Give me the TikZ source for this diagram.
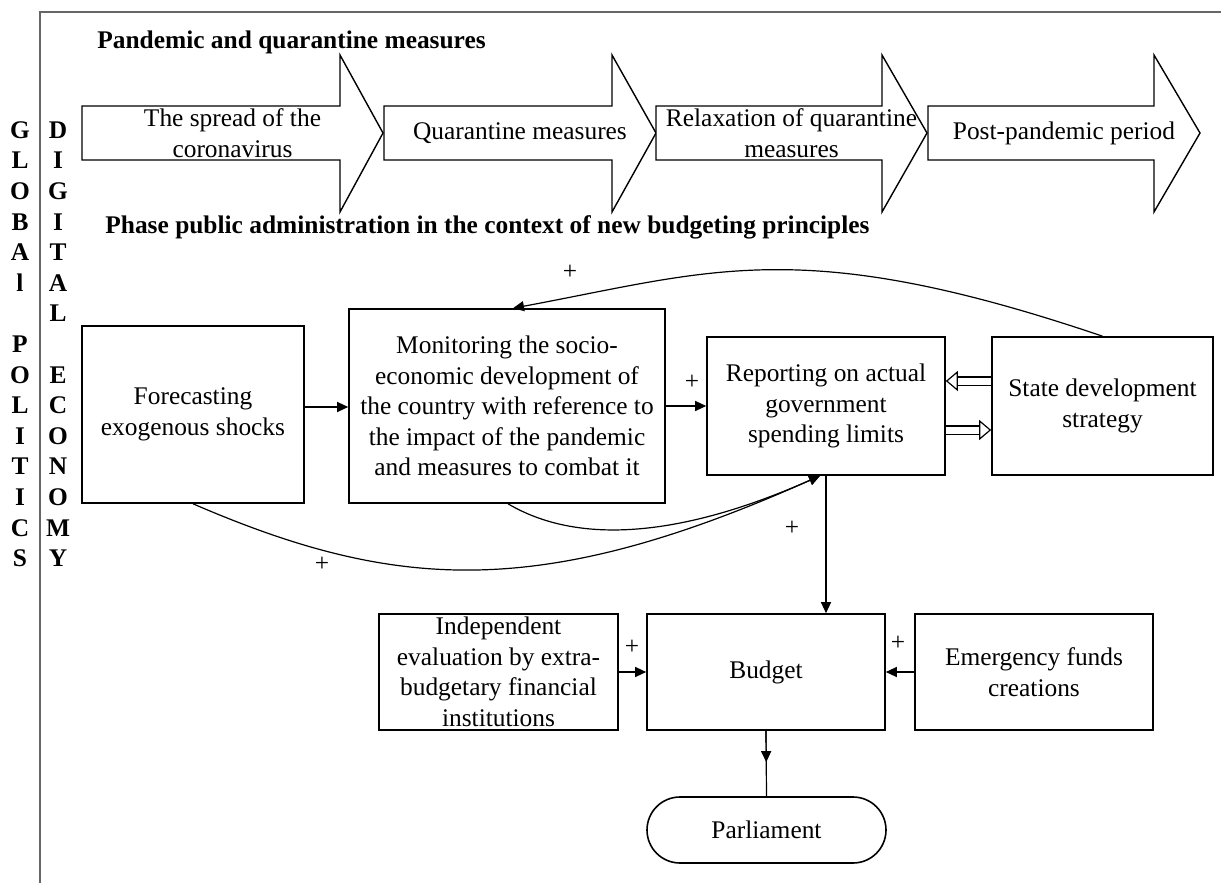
\documentclass[tikz,border=0pt]{standalone}
\usepackage{fontspec}
\setmainfont{Liberation Serif}
\usetikzlibrary{calc,arrows.meta,positioning}
\tikzset{%
    txt/.style={%
        font=\fontsize{12.7pt}{15.3pt}\selectfont, align=center, inner sep=0pt
    },
    heading/.style={%
        txt, font=\bfseries\fontsize{12.7pt}{15.3pt}\selectfont, anchor=west
    },
    letter/.style={%
        txt, font=\bfseries\fontsize{12.7pt}{15.3pt}\selectfont
    },
    phase/.style={%
        draw, fill=white, line width=0.7pt
    },
    box/.style={%
        rectangle, draw, fill=white, line width=0.8pt, txt
    },
    link/.style={%
        -{Triangle[length=5.5pt,width=5pt]}, line width=0.6pt
    },
    hollow/.style={%
        double, double distance=3.5pt, line width=0.6pt, -{Triangle[open,length=6pt,width=10pt]}
    },
    plus/.style={%
        txt
    },
    frame/.style={%
        draw=black!60, line width=1pt
    },
}

\begin{document}
\begin{tikzpicture}[x=0.5pt,y=-0.5pt]
    \useasboundingbox (0,0) rectangle (1221,883);
    \draw[frame] (40,883) -- (40,12) -- (1221,12);

    % side columns
    \foreach \ch [count=\i] in {G,L,O,B,A,l,{},P,O,L,I,T,I,C,S}
        \node[letter] (politics\i) at (20,{130+30.6*(\i-1)}) {\ch};
    \foreach \ch [count=\i] in {D,I,G,I,T,A,L,{},E,C,O,N,O,M,Y}
        \node[letter] (economy\i) at (58,{130+30.6*(\i-1)}) {\ch};

    \node[heading] (pandemic) at (97,42) {Pandemic and quarantine measures};
    \node[heading] (phasetitle) at (105,227) {Phase public administration in the context of new budgeting principles};

    % phases
    \foreach \xa/\xb/\xc/\name/\phasetext in {82/340/383/spread/{The spread of the\\coronavirus},
        384/612/656/quarantine/{Quarantine measures},
        656/882/927/relax/{Relaxation of quarantine\\measures},
        928/1154/1200/post/{Post-pandemic period}} {
        \draw[phase] (\xa,106) -- (\xb,106) -- (\xb,55) -- (\xc,133) -- (\xb,212) -- (\xb,160) -- (\xa,160) -- cycle;
        \node[txt] (\name) at ({(\xa+\xc)/2},133) {\phasetext};
    }

    % boxes
    \node[box, minimum width=111pt, minimum height=88.5pt] (forecast) at (193,414.5) {Forecasting\\exogenous shocks};
    \node[box, minimum width=158pt, minimum height=97pt] (monitor) at (507,406) {Monitoring the socio-\\economic development of\\the country with reference to\\the impact of the pandemic\\and measures to combat it};
    \node[box, minimum width=119pt, minimum height=69pt] (report) at (826,406) {Reporting on actual\\government\\spending limits};
    \node[box, minimum width=110.5pt, minimum height=69pt] (strategy) at (1102.5,406) {State development\\strategy};
    \node[box, minimum width=119.5pt, minimum height=58pt] (independent) at (498.5,672) {Independent\\evaluation by extra-\\budgetary financial\\institutions};
    \node[box, minimum width=119pt, minimum height=58pt] (budget) at (766,672) {Budget};
    \node[box, minimum width=119pt, minimum height=58pt] (emergency) at (1034,672) {Emergency funds\\creations};
    \node[box, rounded corners=16.5pt, minimum width=119.5pt, minimum height=33pt] (parliament) at (766.5,830) {Parliament};

    % signs
    \node[plus] (plus1) at (570,272) {+};
    \node[plus] (plus2) at (692,382) {+};
    \node[plus] (plus3) at (322,564) {+};
    \node[plus] (plus4) at (792,528) {+};
    \node[plus] (plus5) at (632,647) {+};
    \node[plus] (plus6) at (898,643) {+};

    % links
    \draw[link] ([yshift=3.75pt]forecast.east) -- ([yshift=3.75pt]forecast.east -| monitor.west);
    \draw[link] (monitor.east) -- (monitor.east -| report.west);
    \draw[hollow] ([yshift=12.5pt]strategy.west) -- ([yshift=12.5pt]strategy.west -| report.east);
    \draw[hollow] ([yshift=-12pt]report.east) -- ([yshift=-12pt]report.east -| strategy.west);
    \draw[link] (strategy.north) .. controls (801,234) and (713,271) .. ([xshift=3pt]monitor.north);
    \draw[link] (forecast.south) .. controls (395,591) and (540,601) .. ([xshift=-3pt]report.south);
    \draw[link] ([xshift=0.5pt]monitor.south) .. controls (588,551) and (700,529) .. ([xshift=-3pt]report.south);
    \draw[link] (report.south) -- (report.south |- budget.north);
    \draw[link] (independent.east) -- (budget.west);
    \draw[link] (emergency.west) -- (budget.east);
    \draw[line width=0.6pt] (budget.south) -- (parliament.north);
    \draw[link] (budget.south) -- ($(budget.south)!0.48!(parliament.north)$);
\end{tikzpicture}
\end{document}
